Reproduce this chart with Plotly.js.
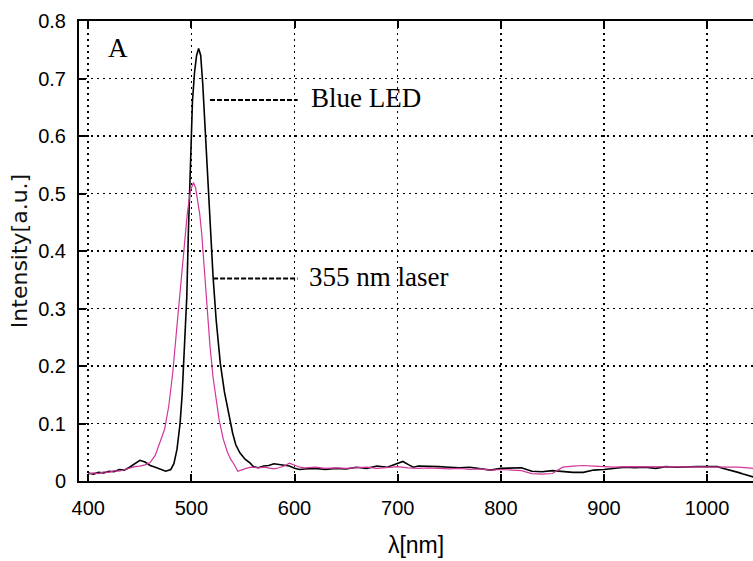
<!DOCTYPE html>
<html>
<head>
<meta charset="utf-8">
<script src="https://cdn.plot.ly/plotly-3.0.1.min.js"></script>
<style>html,body{margin:0;padding:0;background:#fff}#chart{width:753px;height:561px}</style>
</head>
<body>
<div id="chart"></div>
<script>
// Blue LED excitation spectrum (black)
const ledWavelength = [400,405,410,415,420,425,430,435,440,445,450,455,460,465,470,475,480,483,486,489,491,493,495.5,497,499,501,503,505,507,509,511,513,516,519,521,524,528,532,536,540,543,547,552,557,560,565,570,575,580,585,590,595,600,605,610,620,630,640,650,660,670,680,690,700,705,710,715,720,730,740,750,760,770,780,790,800,810,820,830,840,850,860,870,880,890,900,910,920,930,940,950,960,970,980,990,1000,1010,1015,1020,1025,1030,1035,1040,1045];
const ledIntensity = [0.014,0.012,0.015,0.014,0.017,0.016,0.020,0.019,0.024,0.030,0.036,0.033,0.027,0.024,0.021,0.017,0.020,0.030,0.055,0.100,0.150,0.220,0.320,0.430,0.560,0.660,0.710,0.740,0.752,0.740,0.690,0.620,0.510,0.420,0.355,0.280,0.205,0.155,0.117,0.083,0.063,0.049,0.038,0.031,0.025,0.023,0.026,0.027,0.030,0.029,0.027,0.026,0.022,0.020,0.021,0.022,0.020,0.022,0.021,0.024,0.022,0.026,0.024,0.030,0.034,0.029,0.024,0.026,0.026,0.025,0.024,0.023,0.024,0.022,0.019,0.022,0.022,0.023,0.017,0.016,0.018,0.016,0.015,0.015,0.019,0.020,0.022,0.024,0.023,0.024,0.022,0.025,0.024,0.025,0.025,0.025,0.025,0.022,0.020,0.018,0.015,0.012,0.009,0.007];

// 355 nm laser excitation spectrum (magenta)
const laserWavelength = [400,405,410,415,420,425,430,435,440,445,450,455,460,465,470,474,478,482,486,490,493,496,499,502,504,506,508,510,513,516,518,521,524,527,531,535,538,541,545,549,553,558,565,570,575,580,585,590,595,600,605,610,620,630,640,650,660,670,680,690,700,710,720,730,740,750,760,770,780,790,800,810,820,830,840,850,860,870,880,890,900,910,920,930,940,950,960,970,980,990,1000,1010,1020,1030,1040,1045];
const laserIntensity = [0.012,0.014,0.013,0.016,0.015,0.018,0.017,0.020,0.022,0.025,0.026,0.028,0.032,0.045,0.070,0.090,0.130,0.190,0.270,0.345,0.410,0.465,0.505,0.519,0.510,0.490,0.465,0.430,0.355,0.280,0.235,0.180,0.140,0.105,0.072,0.050,0.038,0.030,0.017,0.020,0.022,0.024,0.023,0.024,0.022,0.021,0.023,0.026,0.031,0.027,0.024,0.023,0.024,0.022,0.023,0.022,0.023,0.024,0.022,0.023,0.025,0.023,0.022,0.023,0.022,0.021,0.022,0.020,0.021,0.019,0.020,0.019,0.018,0.013,0.012,0.013,0.024,0.026,0.027,0.026,0.025,0.024,0.025,0.025,0.024,0.024,0.025,0.025,0.025,0.025,0.025,0.025,0.025,0.024,0.023,0.022];

const xTicks = [400,500,600,700,800,900,1000];
const xTickLabels = ['400','500','600','700','800','900','1000'];
const yTicks = [0,0.1,0.2,0.3,0.4,0.5,0.6,0.7,0.8];
const yTickLabels = ['0','0.1','0.2','0.3','0.4','0.5','0.6','0.7','0.8'];

const tickFont = {family: '"Liberation Sans", Arial, sans-serif', size: 20, color: '#000'};
const serif = '"Liberation Serif", "Times New Roman", serif';

const traces = [
  {x: ledWavelength, y: ledIntensity, type: 'scatter', mode: 'lines', name: 'Blue LED',
   line: {color: '#000000', width: 1.6}},
  {x: laserWavelength, y: laserIntensity, type: 'scatter', mode: 'lines', name: '355 nm laser',
   line: {color: '#d2359b', width: 1.2}}
];

const layout = {
  width: 753, height: 561,
  margin: {l: 79, r: 0, t: 21, b: 80},
  paper_bgcolor: '#fff', plot_bgcolor: '#fff',
  showlegend: false,
  xaxis: {
    range: [391, 1044.5], tickvals: xTicks, ticktext: xTickLabels,
    ticks: 'inside', ticklen: 7, tickwidth: 2, tickcolor: '#000',
    showline: true, linecolor: '#000', linewidth: 2, mirror: 'ticks',
    showgrid: true, gridcolor: '#000', gridwidth: 1.6, griddash: '2px,4px',
    zeroline: false, tickfont: tickFont, ticklabelstandoff: 8,
    title: {text: 'λ[nm]', font: {family: '"Liberation Sans", Arial, sans-serif', size: 23, color: '#000'}, standoff: 19}
  },
  yaxis: {
    range: [0, 0.8], tickvals: yTicks, ticktext: yTickLabels,
    ticks: 'inside', ticklen: 7, tickwidth: 2, tickcolor: '#000',
    showline: true, linecolor: '#000', linewidth: 2, mirror: false,
    showgrid: true, gridcolor: '#000', gridwidth: 1.6, griddash: '2px,4px',
    zeroline: false, tickfont: tickFont, ticklabelstandoff: 7,
    title: {text: 'Intensity[a.u.]', font: {family: '"DejaVu Sans", sans-serif', size: 22, color: '#111'}, standoff: 4}
  },
  shapes: [
    {type: 'line', xref: 'x', yref: 'y', x0: 518, x1: 603, y0: 0.6625, y1: 0.6625,
     line: {color: '#000', width: 2, dash: '5px,2px'}},
    {type: 'line', xref: 'x', yref: 'y', x0: 521, x1: 603, y0: 0.352, y1: 0.352,
     line: {color: '#000', width: 2, dash: '5px,2px'}}
  ],
  annotations: [
    {text: 'A', x: 428.8, y: 0.753, xref: 'x', yref: 'y', showarrow: false,
     font: {family: serif, size: 27, color: '#000'}},
    {text: 'Blue LED', x: 614, y: 0.666, xref: 'x', yref: 'y', xanchor: 'left', showarrow: false,
     font: {family: serif, size: 27, color: '#000'}},
    {text: '355 nm laser', x: 612, y: 0.355, xref: 'x', yref: 'y', xanchor: 'left', showarrow: false,
     font: {family: serif, size: 27, color: '#000'}}
  ]
};

Plotly.newPlot('chart', traces, layout, {displayModeBar: false, staticPlot: true});
</script>
</body>
</html>
